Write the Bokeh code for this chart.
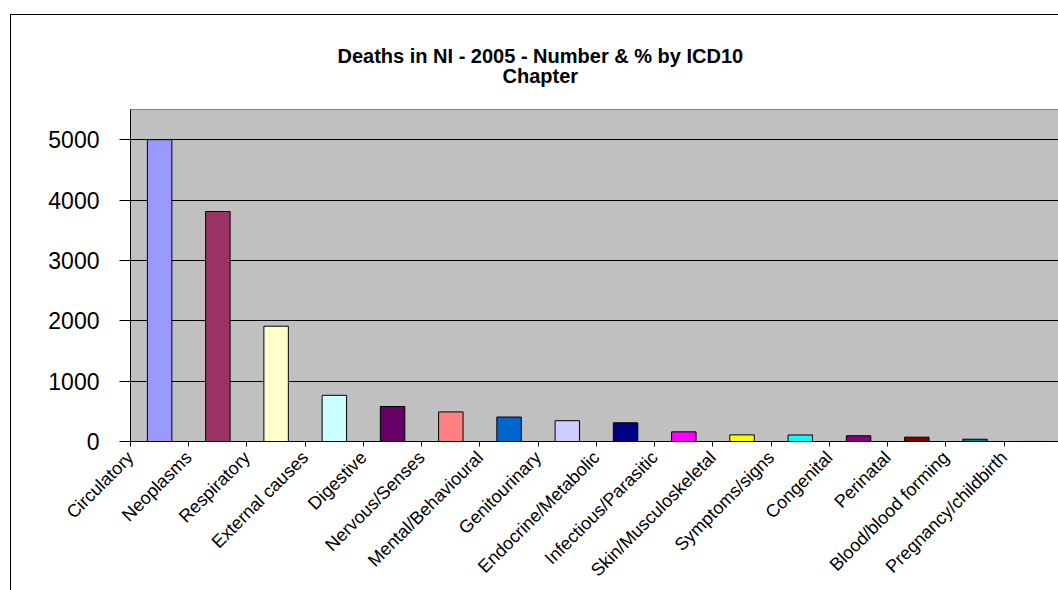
from math import pi

from bokeh.embed import file_html
from bokeh.models import ColumnDataSource, FixedTicker, Range1d, Title
from bokeh.plotting import figure
from bokeh.resources import INLINE

# Deaths registered in Northern Ireland, 2005, by ICD10 chapter
categories = [
    "Circulatory", "Neoplasms", "Respiratory", "External causes", "Digestive",
    "Nervous/Senses", "Mental/Behavioural", "Genitourinary", "Endocrine/Metabolic",
    "Infectious/Parasitic", "Skin/Musculoskeletal", "Symptoms/signs", "Congenital",
    "Perinatal", "Blood/blood forming", "Pregnancy/childbirth",
]
deaths = [5000, 3810, 1910, 765, 580, 490, 405, 345, 310, 160, 110, 108, 95, 72, 38, 1]
bar_colors = [
    "#9999FF", "#993366", "#FFFFCC", "#CCFFFF", "#660066", "#FF8080", "#0066CC", "#CCCCFF",
    "#000080", "#FF00FF", "#FFFF00", "#00FFFF", "#800080", "#800000", "#008080", "#0000FF",
]
y_ticks = [0, 1000, 2000, 3000, 4000, 5000]
title_lines = ["Deaths in NI - 2005 - Number & % by ICD10", "Chapter"]

FONT = "Liberation Sans"
n = len(categories)

source = ColumnDataSource(dict(
    x=[i + 0.5 for i in range(n)],
    deaths=deaths,
    color=bar_colors,
))

p = figure(
    width=1048, height=576,
    x_range=Range1d(0, 15.95), y_range=Range1d(0, 5500),
    output_backend="svg", toolbar_location=None,
    min_border_left=119, min_border_right=0, min_border_top=94, min_border_bottom=150,
    background_fill_color="#C0C0C0", border_fill_color="white",
    outline_line_color="#808080",
)
p.margin = (14, 0, 0, 10)
p.styles = {"border-left": "1px solid black", "border-top": "1px solid black"}

p.vbar(x="x", top="deaths", width=0.42, source=source,
       fill_color="color", line_color="black", line_width=1)

# value axis
p.yaxis.ticker = FixedTicker(ticks=y_ticks)
p.yaxis.major_tick_out = 11
p.yaxis.major_tick_in = 0
p.yaxis.minor_tick_line_color = None
p.yaxis.major_label_standoff = 20
p.yaxis.major_label_text_font = FONT
p.yaxis.major_label_text_font_size = "23px"
p.yaxis.major_label_text_color = "black"
p.yaxis.axis_line_color = "black"
p.yaxis.major_tick_line_color = "black"

# category axis: ticks on category boundaries, names hung from each left boundary
p.xaxis.ticker = FixedTicker(ticks=list(range(n + 1)))
p.xaxis.major_label_overrides = {i: categories[i] for i in range(n)}
p.xaxis.major_label_orientation = pi / 4
p.xaxis.major_tick_out = 5
p.xaxis.major_tick_in = 0
p.xaxis.minor_tick_line_color = None
p.xaxis.major_label_standoff = 8
p.xaxis.major_label_text_font = FONT
p.xaxis.major_label_text_font_size = "18px"
p.xaxis.major_label_text_color = "black"
p.xaxis.axis_line_color = "black"
p.xaxis.major_tick_line_color = "black"

p.xgrid.visible = False
p.ygrid.ticker = FixedTicker(ticks=y_ticks[1:])
p.ygrid.grid_line_color = "black"
p.ygrid.grid_line_width = 1

# two-line title, centred over the whole chart area rather than the plot frame
title_style = dict(align="left", text_font=FONT, text_font_size="20px",
                   text_font_style="bold", text_color="black")
p.title = Title(text=title_lines[0], offset=207, standoff=-52, **title_style)
p.add_layout(Title(text=title_lines[1], offset=372, standoff=45, **title_style), "above")

open("out.html", "w").write(file_html(p, INLINE))
